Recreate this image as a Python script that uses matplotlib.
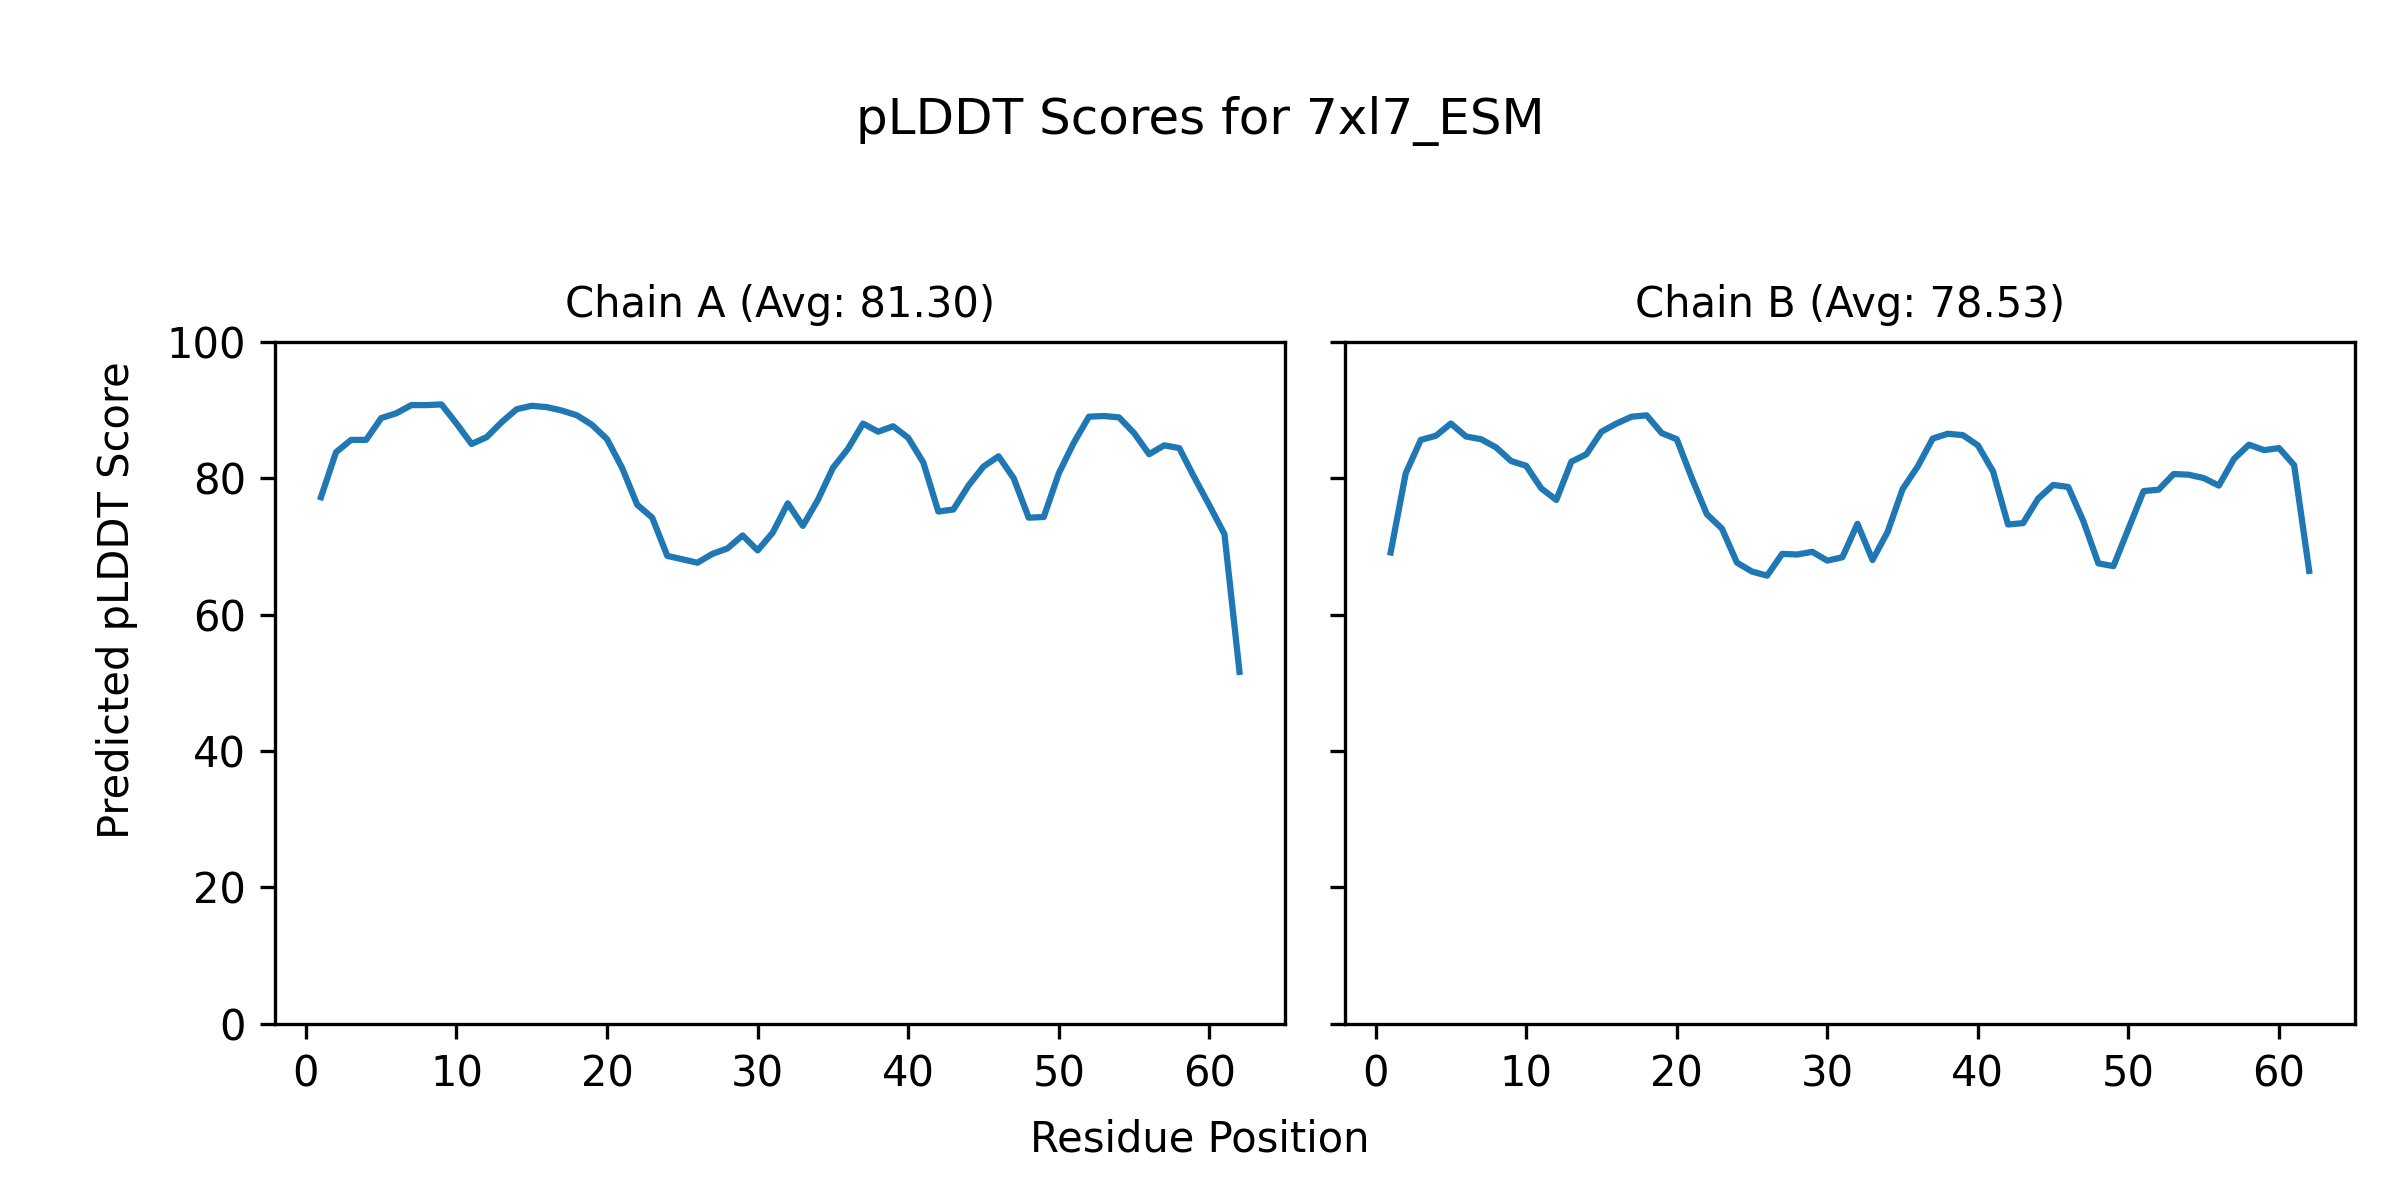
import numpy as np
import matplotlib
matplotlib.use("Agg")
import matplotlib.pyplot as plt

# pLDDT per residue
model_name = "7xl7_ESM"
chains = ["A", "B"]
chain_avgs = [81.30, 78.53]

plddt_a = [77.2, 83.8, 85.6, 85.6, 88.8, 89.5, 90.7, 90.7, 90.8, 88.0,
           85.0, 86.0, 88.2, 90.1, 90.6, 90.4, 89.9, 89.2, 87.8, 85.7,
           81.5, 76.1, 74.2, 68.6, 68.1, 67.6, 68.9, 69.7, 71.6, 69.4,
           72.0, 76.3, 73.0, 76.8, 81.5, 84.3, 88.0, 86.8, 87.6, 85.9,
           82.3, 75.1, 75.4, 78.9, 81.7, 83.2, 80.0, 74.2, 74.3, 80.7,
           85.2, 89.0, 89.1, 88.9, 86.6, 83.5, 84.8, 84.4, 80.1, 76.0,
           71.8, 51.6]

plddt_b = [69.1, 80.7, 85.6, 86.2, 88.0, 86.1, 85.7, 84.5, 82.5, 81.8,
           78.5, 76.8, 82.4, 83.5, 86.8, 88.0, 89.0, 89.2, 86.6, 85.7,
           80.0, 74.7, 72.6, 67.6, 66.3, 65.7, 68.9, 68.8, 69.2, 67.9,
           68.4, 73.3, 68.0, 72.1, 78.4, 81.7, 85.8, 86.5, 86.3, 84.8,
           81.0, 73.2, 73.4, 77.0, 79.0, 78.7, 73.7, 67.5, 67.1, 72.6,
           78.1, 78.3, 80.6, 80.5, 80.0, 78.9, 82.8, 84.9, 84.1, 84.4,
           81.9, 66.4]

scores = [plddt_a, plddt_b]

fig, axes = plt.subplots(1, 2, figsize=(8, 4), dpi=300, sharey=True)

for ax, chain, avg, vals in zip(axes, chains, chain_avgs, scores):
    residues = np.arange(1, len(vals) + 1)
    ax.plot(residues, vals)
    ax.set_title(f"Chain {chain} (Avg: {avg:.2f})", fontsize=10)
    ax.set_ylim(0, 100)

fig.suptitle(f"pLDDT Scores for {model_name}", y=0.92)
fig.text(0.5, 0.04, "Residue Position", ha="center")
fig.text(0.04, 0.5, "Predicted pLDDT Score", va="center", rotation="vertical")

plt.subplots_adjust(left=0.1146, right=0.9813, bottom=0.1467, top=0.7153, wspace=0.0587)
plt.savefig("out.png")
